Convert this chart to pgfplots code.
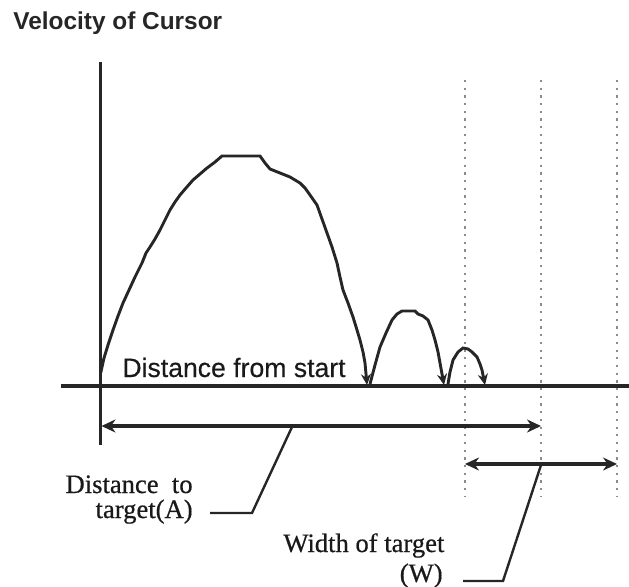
\documentclass[border=0pt]{standalone}
\usepackage{fontspec}
\setmainfont{Liberation Serif}[FakeBold=0.6]
\setsansfont{Liberation Sans}
\newfontfamily\serifthick{Liberation Serif}[FakeBold=0.6]
\newfontfamily\sansthick{Liberation Sans}[FakeBold=0.3]
\usepackage{pgfplots}
\pgfplotsset{compat=1.18}
\usetikzlibrary{arrows.meta}
\begin{document}
\begin{tikzpicture}
\begin{axis}[
  scale only axis, width=314.5bp, height=293.5bp,
  xmin=0, xmax=629, ymin=0, ymax=587, y dir=reverse,
  axis lines=none, ticks=none, clip=false,
]
\coordinate (bl) at (rel axis cs:0,0);
\coordinate (tr) at (rel axis cs:1,1);
% dotted target lines
\addplot[black!45, line width=1.3bp, dash pattern=on 1.1bp off 2.75bp] coordinates {(465,80) (465,497)};
\addplot[black!45, line width=1.3bp, dash pattern=on 1.1bp off 2.75bp] coordinates {(541,80) (541,497)};
\addplot[black!45, line width=1.3bp, dash pattern=on 1.1bp off 2.75bp] coordinates {(617,80) (617,497)};
% axes
\addplot[black!85, line width=1.6bp] coordinates {(61,386) (629,386)};
\addplot[black!85, line width=1.6bp] coordinates {(100.5,62) (100.5,445)};
% velocity humps
\addplot[black!85, line width=1.45bp, -{Stealth[length=5.5bp,width=5bp]}] coordinates {
(100.7,373) (104,358) (108,345) (113,330) (118,316) (123,303) (129,290) (135,277)
(142,263) (146,253) (150,247) (155,239) (160,230) (165,220) (170,210) (175,202)
(180,195) (186,188) (193,180) (200,174) (207,168) (215,162) (222,156) (260,156)
(265,163) (270,169) (280,173) (290,177) (300,183) (305,188) (310,195) (317,205)
(322,219) (327,233) (332,247) (337,263) (340,277) (343,290) (348,303) (353,317)
(357,330) (360,340) (363,352) (365,363) (367,385)};
\addplot[black!85, line width=1.45bp, -{Stealth[length=5.5bp,width=5bp]}] coordinates {
(370,384) (375,365) (380,347) (386,333) (392,320) (397,314) (402,311) (415,311)
(418,314) (423,316) (428,320) (432,330) (435,340) (438,352) (440,363) (444,385)};
\addplot[black!85, line width=1.45bp, -{Stealth[length=5.5bp,width=5bp]}] coordinates {
(448,384) (450,372) (453,360) (458,352) (463,348) (468,349) (472,352) (477,357)
(480,364) (482,370) (485,385)};
% A and W arrows
\addplot[black!85, line width=1.6bp, {Stealth[length=7bp,width=6.5bp]}-{Stealth[length=7bp,width=6.5bp]}] coordinates {(101.5,426) (541,426)};
\addplot[black!85, line width=1.6bp, {Stealth[length=7bp,width=6.5bp]}-{Stealth[length=7bp,width=6.5bp]}] coordinates {(465,464) (617,464)};
% leaders
\addplot[black!85, line width=1.2bp] coordinates {(210,513) (252,513) (292,427)};
\addplot[black!85, line width=1.2bp] coordinates {(463,581) (503,581) (541,465)};
% texts
\node[anchor=base west, inner sep=0pt, font=\sffamily\bfseries\fontsize{12.2bp}{14bp}\selectfont, text=black!85] at (axis cs:13,30) {Velocity of Cursor};
\node[anchor=base west, inner sep=0pt, font=\sansthick\fontsize{13.3bp}{15bp}\selectfont, text=black!90] at (axis cs:122,377) {Distance from start};
\node[anchor=base east, inner sep=0pt, font=\serifthick\fontsize{13.3bp}{15bp}\selectfont, text=black!90] at (axis cs:193,493) {Distance\ \ to};
\node[anchor=base east, inner sep=0pt, font=\serifthick\fontsize{13.3bp}{15bp}\selectfont, text=black!90] at (axis cs:193,518) {target(A)};
\node[anchor=base west, inner sep=0pt, font=\serifthick\fontsize{13.3bp}{15bp}\selectfont, text=black!90] at (axis cs:283,552) {Width of target};
\node[anchor=base east, inner sep=0pt, font=\serifthick\fontsize{13.3bp}{15bp}\selectfont, text=black!90] at (axis cs:443,582) {(W)};
\end{axis}
\pgfresetboundingbox
\useasboundingbox (bl) rectangle (tr);
\end{tikzpicture}
\end{document}
